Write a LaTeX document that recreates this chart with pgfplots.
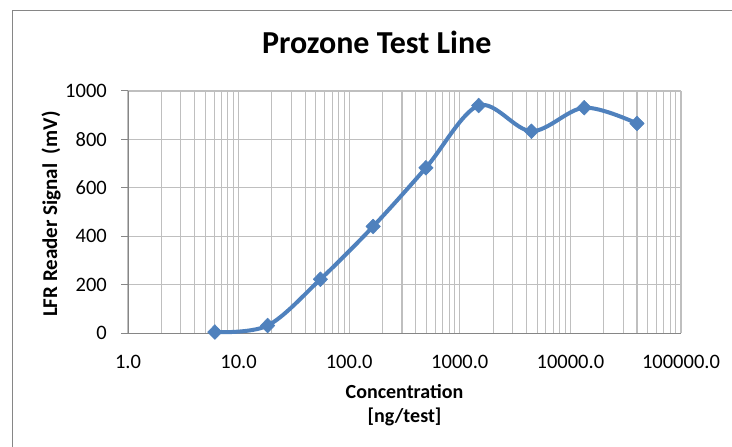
\documentclass[border=0pt]{standalone}
\usepackage{pgfplots}
\pgfplotsset{compat=1.18}
\usepackage{fontspec}
\setmainfont{Carlito}
\definecolor{excelblue}{HTML}{4F81BD}
\definecolor{gridgray}{HTML}{BFBFBF}
\definecolor{axisgray}{HTML}{868686}
\begin{document}
\begin{tikzpicture}
\useasboundingbox (0pt,0pt) rectangle (732pt,447pt);
\fill[white] (0pt,0pt) rectangle (732pt,447pt);
\draw[axisgray, line width=1pt] (12pt,-20pt) -- (12pt,436pt) -- (760pt,436pt);
\begin{axis}[
  at={(128pt,113.7pt)}, anchor=south west,
  scale only axis, width=553pt, height=242.3pt,
  xmode=log, xmin=1, xmax=100000, ymin=0, ymax=1000,
  axis lines=left, axis line style={-, draw=axisgray, line width=1pt},
  xtick={1,10,100,1000,10000,100000},
  xticklabels={1.0,10.0,100.0,1000.0,10000.0,100000.0},
  minor xtick={2,3,4,5,6,7,8,9,20,30,40,50,60,70,80,90,200,300,400,500,600,700,800,900,2000,3000,4000,5000,6000,7000,8000,9000,20000,30000,40000,50000,60000,70000,80000,90000},
  ytick={0,200,400,600,800,1000},
  yticklabels={0,200,400,600,800,1000},
  grid=both,
  major grid style={draw=gridgray, line width=1.1pt},
  minor grid style={draw=gridgray, line width=1.1pt},
  tick align=outside, major tick length=7pt, minor tick length=0pt,
  every tick/.append style={draw=axisgray, line width=1pt},
  every x tick/.append style={draw=none},
  xticklabel style={font=\fontsize{20.5}{24}\selectfont, anchor=north, inner sep=0pt, yshift=-15pt},
  yticklabel style={font=\fontsize{20.5}{24}\selectfont, anchor=east, inner sep=0pt, xshift=-14pt},
  clip=false,
]
\addplot[excelblue, line width=4pt, smooth, tension=0.55, line join=round,
  mark=diamond*, mark size=7.4pt, mark options={fill=excelblue, draw=excelblue, line width=0.5pt, xscale=1.3, solid}]
  coordinates {
  (6.1,5) (18.3,32) (54.9,223) (164.6,441) (493.8,683)
  (1481.5,940) (4444.4,834) (13333.3,931) (40000,866)
  };
\end{axis}
\node[anchor=base, font=\fontsize{32}{38}\selectfont\bfseries] at (376.7pt,393pt) {Prozone Test Line};
\node[anchor=base, font=\fontsize{20}{24}\selectfont\bfseries] at (404.5pt,48.7pt) {Concentration};
\node[anchor=base, font=\fontsize{20}{24}\selectfont\bfseries] at (404.5pt,24.3pt) {[ng/test]};
\node[anchor=base, rotate=90, font=\fontsize{21}{25}\selectfont\bfseries] at (57pt,232.8pt) {LFR Reader Signal\ \ (mV)};
\end{tikzpicture}
\end{document}
